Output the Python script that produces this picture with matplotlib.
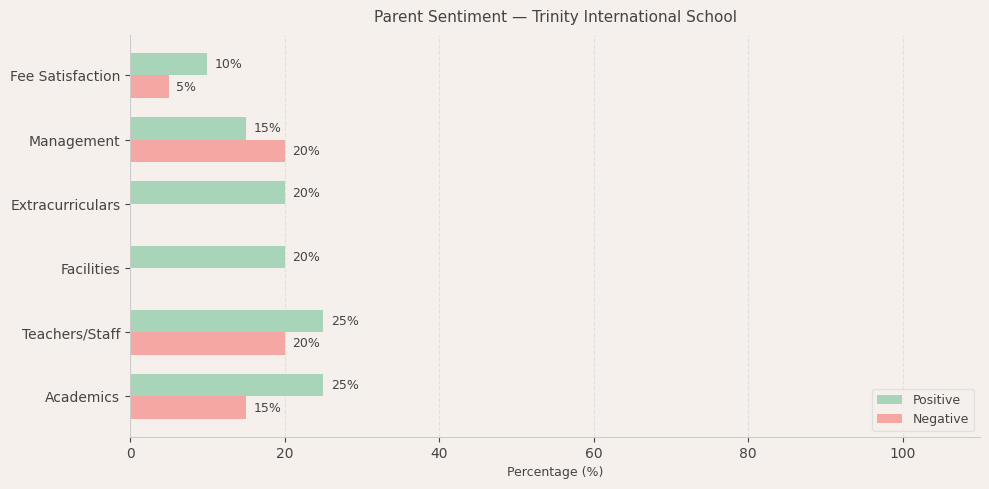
import matplotlib
matplotlib.use("Agg")
import matplotlib.pyplot as plt
import numpy as np

# data
categories = ["Academics", "Teachers/Staff", "Facilities", "Extracurriculars", "Management", "Fee Satisfaction"]
positive = [25, 25, 20, 20, 15, 10]
negative = [15, 20, 0, 0, 20, 5]

bg = "#f5f0ec"
text_col = "#444444"
pos_col = "#a8d5ba"
neg_col = "#f5a8a3"

fig, ax = plt.subplots(figsize=(9.89, 4.895), dpi=100)
fig.patch.set_facecolor(bg)
ax.set_facecolor(bg)

y = np.arange(len(categories))
h = 0.35
bars_p = ax.barh(y + h / 2, positive, height=h, color=pos_col, label="Positive")
bars_n = ax.barh(y - h / 2, negative, height=h, color=neg_col, label="Negative")

# value labels, skip zero bars
for bars, vals in [(bars_p, positive), (bars_n, negative)]:
    for b, v in zip(bars, vals):
        if v > 0:
            ax.text(v + 1, b.get_y() + b.get_height() / 2, f"{v}%",
                    va="center", ha="left", fontsize=9, color=text_col)

ax.set_yticks(y)
ax.set_yticklabels(categories)
ax.set_xlim(0, 110)
ax.set_xticks([0, 20, 40, 60, 80, 100])
ax.tick_params(colors=text_col, labelsize=10)
ax.set_xlabel("Percentage (%)", fontsize=9, color=text_col, labelpad=3)
ax.set_title("Parent Sentiment \u2014 Trinity International School", fontsize=11,
             color=text_col, pad=9.5)

ax.grid(axis="x", linestyle="--", color="#dddddd", alpha=0.8)
ax.set_axisbelow(True)
for s in ["top", "right"]:
    ax.spines[s].set_visible(False)
for s in ["left", "bottom"]:
    ax.spines[s].set_color("#cccccc")

leg = ax.legend(loc="lower right", fontsize=9, facecolor=bg, edgecolor="#dddddd")
for t in leg.get_texts():
    t.set_color(text_col)

plt.subplots_adjust(left=0.1315, right=0.991, top=0.928, bottom=0.106)
fig.savefig("out.png", dpi=100, facecolor=bg)
